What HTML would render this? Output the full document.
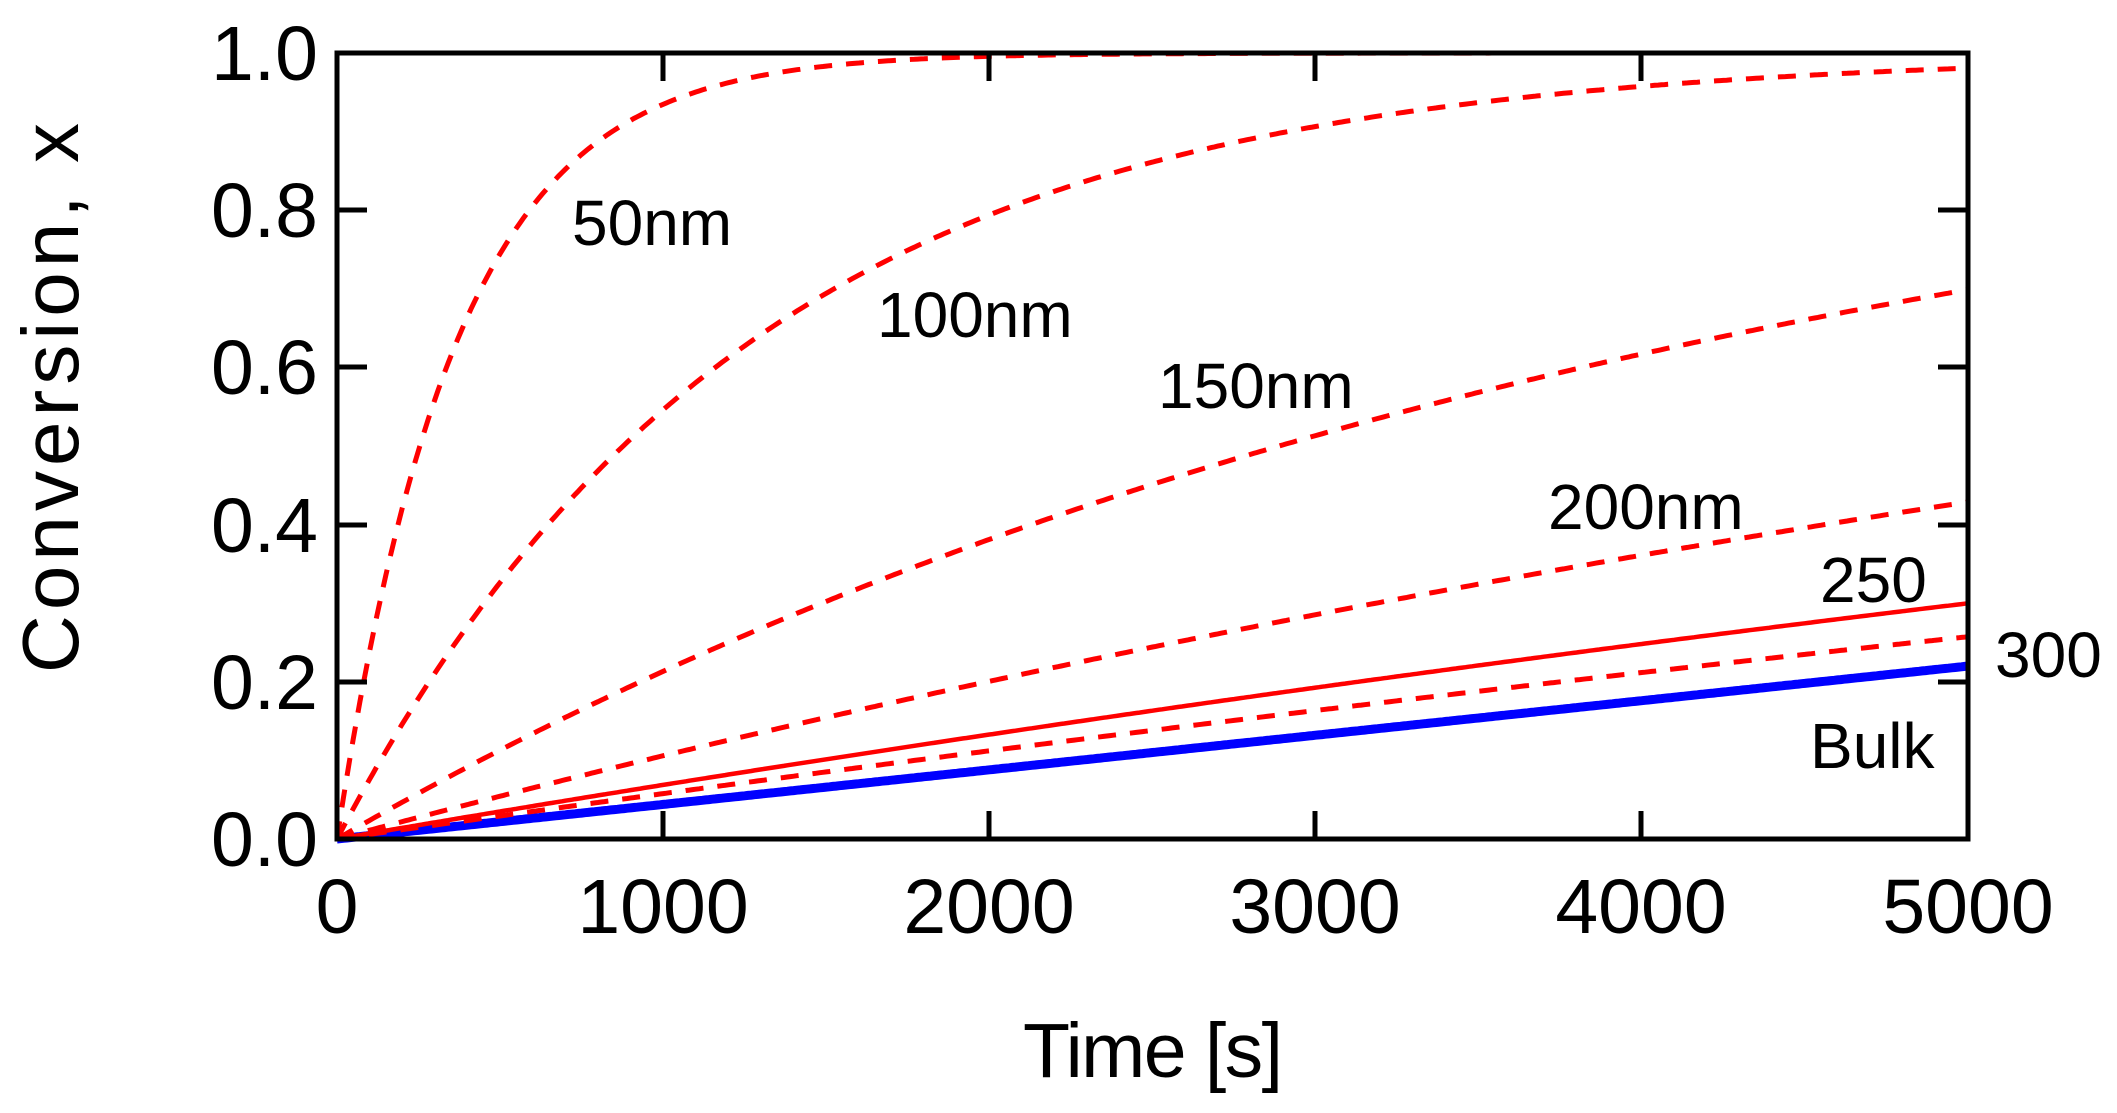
<!DOCTYPE html>
<html><head><meta charset="utf-8"><style>
html,body{margin:0;padding:0;background:#fff;}
svg{display:block;}
text{font-family:"Liberation Sans",Arial,sans-serif;fill:#000;}
</style></head><body>
<svg id="s" width="2117" height="1113" viewBox="0 0 2117 1113" xmlns="http://www.w3.org/2000/svg">
<g id="curves"></g>
<g stroke="#000" stroke-width="5" fill="none">
<rect x="337" y="53" width="1631" height="786"/>
<path d="M663 839v-28M663 53v28M989 839v-28M989 53v28M1315 839v-28M1315 53v28M1641 839v-28M1641 53v28
M337 682h30M1968 682h-30M337 525h30M1968 525h-30M337 367h30M1968 367h-30M337 210h30M1968 210h-30"/>
</g>
<g font-size="77" text-anchor="end">
<text x="318" y="80">1.0</text>
<text x="318" y="237">0.8</text>
<text x="318" y="394">0.6</text>
<text x="318" y="552">0.4</text>
<text x="318" y="709">0.2</text>
<text x="318" y="866">0.0</text>
</g>
<g font-size="77" text-anchor="middle">
<text x="337" y="933">0</text>
<text x="663" y="933">1000</text>
<text x="989" y="933">2000</text>
<text x="1315" y="933">3000</text>
<text x="1641" y="933">4000</text>
<text x="1968" y="933">5000</text>
</g>
<text x="1023" y="1077" font-size="77" textLength="260">Time [s]</text>
<text transform="translate(78,398) rotate(-90)" font-size="80" text-anchor="middle" textLength="550">Conversion, x</text>
<g font-size="64">
<text x="572" y="245">50nm</text>
<text x="877" y="337">100nm</text>
<text x="1158" y="408">150nm</text>
<text x="1548" y="529">200nm</text>
<text x="1820" y="602">250</text>
<text x="1995" y="677">300</text>
<text x="1810" y="768">Bulk</text>
</g>
</svg>
<script>
(function(){
var g=document.getElementById('curves');
function X(t){return 337+t/5000*1631;}
function Y(v){return 839-v*786;}
function path(f){var d='';for(var t=0;t<=5000;t+=10){d+=(t?'L':'M')+X(t).toFixed(1)+' '+Y(f(t)).toFixed(1);}return d;}
function add(f,col,w,dash){var p=document.createElementNS('http://www.w3.org/2000/svg','path');
p.setAttribute('d',path(f));p.setAttribute('fill','none');p.setAttribute('stroke',col);p.setAttribute('stroke-width',w);
if(dash)p.setAttribute('stroke-dasharray',dash);g.appendChild(p);}
var ks=[0.00273,0.00079,0.00024,0.000112,0.0000595];
add(function(t){return 0.22*t/5000;},'#0000ff',9);
add(function(t){return 1-Math.exp(-0.0000713*t);},'#ff0000',4.5);
ks.forEach(function(k){add(function(t){return 1-Math.exp(-k*t);},'#ff0000',5,'18 14');});
})();
</script>
</body></html>
